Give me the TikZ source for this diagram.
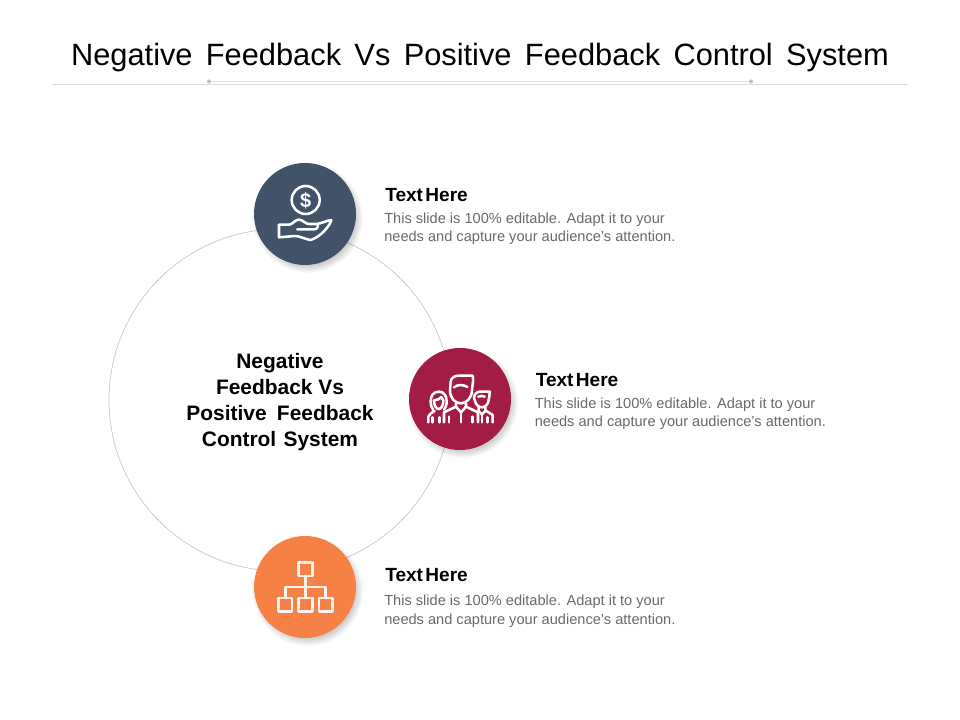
\documentclass[tikz,border=0pt]{standalone}
\usepackage{fontspec}
\setmainfont{Liberation Sans}
\definecolor{navy}{HTML}{415269}
\definecolor{wine}{HTML}{A21C45}
\definecolor{orange1}{HTML}{F58147}
\definecolor{body}{HTML}{6A6A6A}
\definecolor{rule}{HTML}{DEDEDE}
\newcommand{\tw}{\hspace{10pt}}
\tikzset{
  x=0.75pt,y=-0.75pt,
  bubble/.style={circle,minimum size=76.5pt,inner sep=0pt},
  head/.style={anchor=west,inner sep=0pt,font=\bfseries\fontsize{14.3}{15}\selectfont,text=black},
  bodytext/.style={anchor=north west,inner sep=0pt,align=left,font=\fontsize{10.95}{13.9}\selectfont,text=body},
  icon/.style={draw=white,line width=1.9pt,line join=round,line cap=round,fill=none},
  zoomed/.style={x=0.25pt,y=-0.25pt},
  shade1/.style={fill=black,opacity=0.022,draw=none}
}
\newcommand{\headtext}{Text\hspace{1.8pt}Here}
\newcommand{\bodycopy}{This slide is 100\% editable. Adapt it to your\\needs and capture your audience's attention.}
\begin{document}
\begin{tikzpicture}
\useasboundingbox (0,0) rectangle (960,720);
\fill[white] (0,0) rectangle (960,720);
% title
\node (title) at (480,57.5) [inner sep=0pt,font=\fontsize{23.1}{26}\selectfont] {Negative\tw Feedback\tw Vs\tw Positive\tw Feedback\tw Control\tw System};
\coordinate (ruleA) at (52,84.3); \coordinate (ruleB) at (908,84.3);
\coordinate (ruleC) at (209,81.5); \coordinate (ruleD) at (751,81.5);
\draw[rule,line width=0.7pt] (ruleA) -- (ruleB);
\draw[rule,line width=0.9pt] (ruleC) -- (ruleD);
\fill[rule!85!black] (ruleC) circle (2) (ruleD) circle (2);
% ring
\node (ring) at (280,400) [circle,draw=black!20,line width=0.6pt,minimum size=256.5pt,inner sep=0pt] {};
\node (centre) at (280,402) [inner sep=0pt,align=center,font=\bfseries\fontsize{15.7}{19.5}\selectfont] {Negative\\Feedback Vs\\Positive\hspace{7.7pt}Feedback\\Control\hspace{5.5pt}System};
% shadows
\foreach \cx/\cy in {305/214,460/399,305/587}{
  \foreach \r in {48,49,50,51,52,53,54,55}{ \fill[shade1] (\cx+3,\cy+4) circle (\r); }
}
% bubbles
\node (moneyB) at (305,214) [bubble,fill=navy] {};
\node (teamB) at (460,399) [bubble,fill=wine] {};
\node (orgB) at (305,587) [bubble,fill=orange1] {};
% texts
\node (h1) at (385,195) [head] {\headtext};
\node (b1) at (384,212.5) [bodytext] {\bodycopy};
\node (h2) at (535.5,380) [head] {\headtext};
\node (b2) at (534.5,397.5) [bodytext] {\bodycopy};
\node (h3) at (385,575) [head] {\headtext};
\node (b3) at (384,595) [bodytext] {\bodycopy};
% money icon
\begin{scope}[shift={(240,150)},zoomed,icon]
  \draw (197,150) circle (42);
  \node[text=white,font=\bfseries\fontsize{15}{15}\selectfont,inner sep=0pt] (dollar) at (197,151) {\$};
  \draw (117,224) -- (148,224) .. controls (160,222) and (165,208) .. (178,209)
        .. controls (190,210) and (195,222) .. (208,222) -- (230,222)
        .. controls (245,220) and (260,212) .. (274,210)
        .. controls (270,228) and (240,262) .. (212,270)
        .. controls (195,268) and (180,258) .. (165,258) -- (117,262) -- cycle;
  \draw (172,238) -- (222,238) .. controls (232,238) and (236,230) .. (232,222);
\end{scope}
% team icon
\begin{scope}[shift={(400,335)},zoomed,icon]
  % centre man
  \draw (152,140) .. controls (153,128) and (165,122) .. (175,122) -- (218,122)
        .. controls (222,140) and (216,150) .. (216,165)
        .. controls (216,190) and (198,205) .. (183,205)
        .. controls (165,205) and (150,190) .. (150,165) -- cycle;
  \draw (162,157) .. controls (172,148) and (190,148) .. (202,156);
  \draw (168,205) -- (168,215) -- (132,232) -- (132,262);
  \draw (198,205) -- (198,215) -- (234,232) -- (234,262);
  \draw (168,215) -- (183,232) -- (198,215);
  \draw (183,232) -- (183,262);
  \draw (147,245) -- (147,262); \draw (218,245) -- (218,262);
  % left woman
  \draw (116,170) .. controls (100,170) and (92,183) .. (92,198) .. controls (92,210) and (95,220) .. (100,226);
  \draw (116,170) .. controls (132,170) and (140,183) .. (140,198) .. controls (140,210) and (137,218) .. (132,224);
  \draw (102,196) .. controls (110,196) and (120,192) .. (124,186) .. controls (126,190) and (128,194) .. (130,196);
  \draw (102,196) .. controls (102,212) and (109,222) .. (116,222) .. controls (123,222) and (130,212) .. (130,196);
  \draw (85,262) -- (85,245) .. controls (87,238) and (94,234) .. (104,228);
  \draw (97,247) -- (97,262); \draw (118,247) -- (118,262);
  % right man
  \draw (222,190) .. controls (222,176) and (232,170) .. (240,170) -- (270,170) -- (266,195)
        .. controls (265,208) and (255,217) .. (246,217) .. controls (235,217) and (226,207) .. (225,197) -- cycle;
  \draw (235,185) .. controls (242,182) and (248,182) .. (254,185);
  \draw (236,217) -- (236,228) -- (246,238) -- (256,228) -- (256,217);
  \draw (256,226) -- (278,240) -- (278,262);
  \draw (246,238) -- (246,262);
  \draw (262,247) -- (262,262);
\end{scope}
% org icon
\begin{scope}[shift={(240,525)},zoomed,icon,draw=white!90!orange1]
  \draw (176,112) rectangle (217,153);
  \draw (116,219) rectangle (156,260);
  \draw (176,219) rectangle (217,260);
  \draw (237,219) rectangle (277,260);
  \draw (196,153) -- (196,219);
  \draw (136,219) -- (136,186) -- (257,186) -- (257,219);
\end{scope}
\end{tikzpicture}
\end{document}
